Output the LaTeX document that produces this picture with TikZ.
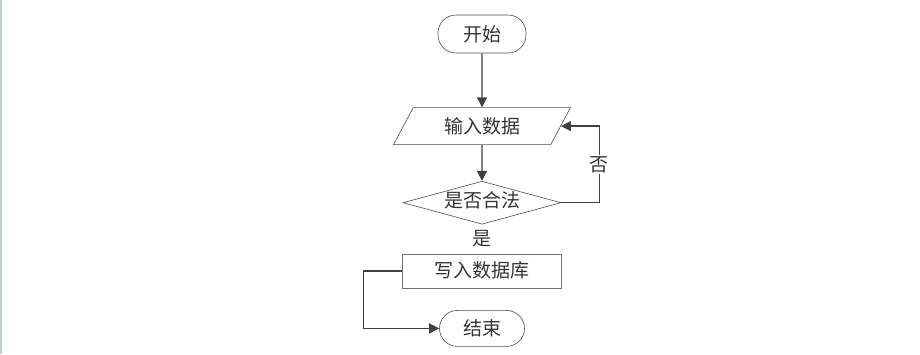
\documentclass[tikz,border=0pt]{standalone}
\usepackage{fontspec}
\newfontfamily\cjk{Noto Sans CJK SC}
\usetikzlibrary{shapes.geometric, positioning, arrows.meta}
\definecolor{edgegray}{RGB}{190,204,212}

\begin{document}
\begin{tikzpicture}[
    every node/.style={font=\cjk\fontsize{19pt}{21pt}\selectfont, text=black!80},
    term/.style={rectangle, rounded corners=18pt, draw=black!70, semithick,
                 minimum width=88pt, minimum height=38pt, align=center},
    io/.style={trapezium, trapezium left angle=64, trapezium right angle=116,
               trapezium stretches=true, draw=black!70, semithick,
               minimum width=177pt, minimum height=37pt},
    decide/.style={diamond, aspect=3.67, draw=black!70, semithick, inner sep=0pt,
                   text height=12pt, text depth=2pt,
                   minimum width=158pt, minimum height=43pt},
    proc/.style={rectangle, draw=black!55, semithick,
                 minimum width=159pt, minimum height=34pt},
    arrow/.style={line width=1.4pt, black!75, -{Triangle[length=10pt, width=10pt]}}
]
\useasboundingbox (0,0) rectangle (920pt,-354pt);
\fill[edgegray] (0,0) rectangle (1.5pt,-354pt);

\node[term] (start) at (482pt,-34pt) {开始};
\node[io, below=54pt of start] (input) {输入数据};
\node[decide, below=36pt of input] (check) {是否合法};
\node[proc, below=29pt of check] (write) {写入数据库};
\node[term, minimum width=85pt, minimum height=36pt, below=22pt of write] (finish) {结束};

\draw[arrow] (start) -- (input);
\draw[arrow] (input) -- (check);
\path (check) -- node{是} (write);
\draw[arrow] (check.east) -- ++(38pt,0) |- node[pos=0.25, fill=white, inner sep=1pt]{否} (input.east);
\draw[arrow] (write.west) -- ++(-39pt,0) |- (finish.west);
\end{tikzpicture}
\end{document}
